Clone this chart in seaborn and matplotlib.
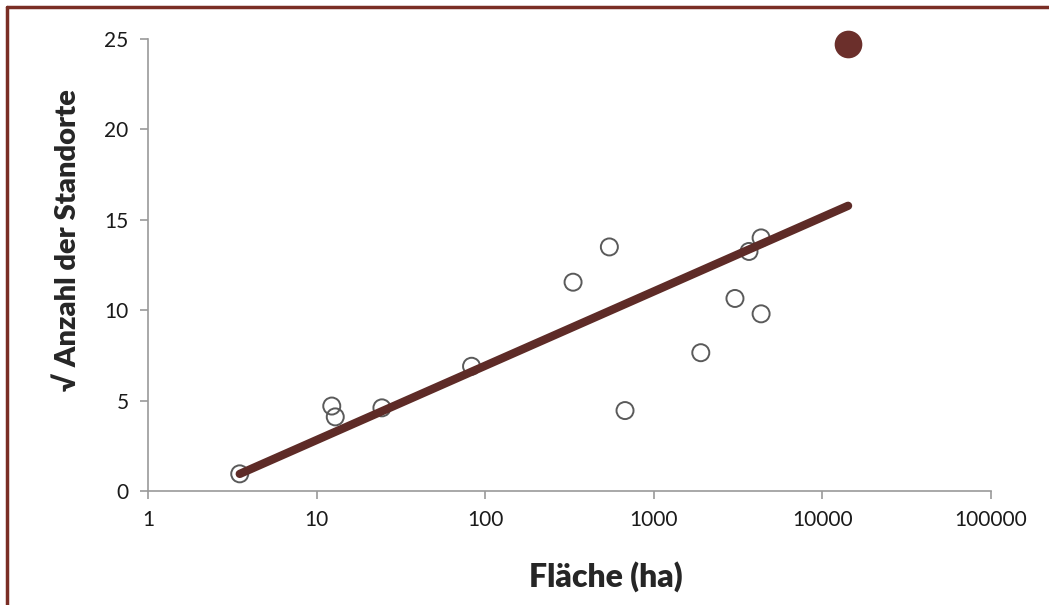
import numpy as np
import pandas as pd
import matplotlib.pyplot as plt
import seaborn as sns
from matplotlib.lines import Line2D

# Fläche (ha) und Wurzel der Anzahl der Standorte
area_ha = [3.5, 12.3, 12.9, 24.4, 83, 332, 545, 675, 1900, 3030, 3670, 4330, 4330]
sqrt_sites = [0.95, 4.7, 4.1, 4.6, 6.9, 11.55, 13.5, 4.45, 7.65, 10.65, 13.25, 9.8, 14.0]

# hervorgehobener Standort
highlight_area = [14200]
highlight_sqrt = [24.75]

# Regressionsgerade y = a + b * log10(x)
fit_intercept = -1.29
fit_slope = 4.11
fit_range = [3.5, 14200]

xticks = [1, 10, 100, 1000, 10000, 100000]
yticks = [0, 5, 10, 15, 20, 25]

sns.set_style("white")
plt.rcParams['font.family'] = ['Lato', 'DejaVu Sans']

fig = plt.figure(figsize=(10.49, 6.05), dpi=100)
ax = fig.add_axes([0.1411, 0.1884, 0.8036, 0.7471])

df = pd.DataFrame({'x': area_ha, 'y': sqrt_sites})
fit_x = np.array(fit_range)
fit_df = pd.DataFrame({'x': fit_x, 'y': fit_intercept + fit_slope * np.log10(fit_x)})

sns.scatterplot(data=df, x='x', y='y', ax=ax, s=150, facecolor='none',
                edgecolor='#5a5a5a', linewidth=1.4, zorder=2)
sns.lineplot(data=fit_df, x='x', y='y', ax=ax, color='#5e2b27', linewidth=6,
             solid_capstyle='round', zorder=3)
sns.scatterplot(x=highlight_area, y=highlight_sqrt, ax=ax, s=340,
                color='#6b2f2b', edgecolor='#6b2f2b', zorder=4, clip_on=False)

ax.set_xscale('log')
ax.set_xlim(1, 100000)
ax.set_ylim(0, 25)
ax.set_xticks(xticks)
ax.set_xticklabels([str(t) for t in xticks])
ax.set_yticks(yticks)
ax.set_yticklabels([str(t) for t in yticks])
ax.minorticks_off()

for side in ['top', 'right']:
    ax.spines[side].set_visible(False)
for side in ['left', 'bottom']:
    ax.spines[side].set_color('#9a9a9a')
    ax.spines[side].set_linewidth(1.2)

ax.tick_params(axis='both', which='major', direction='out', length=6, width=1.2,
               color='#9a9a9a', labelsize=15, labelcolor='#1a1a1a', pad=8, bottom=True, left=True)

ax.set_xlabel('Fläche (ha)', fontsize=23, fontweight='heavy')
ax.set_ylabel('√ Anzahl der Standorte', fontsize=21, fontweight='heavy')
ax.xaxis.set_label_coords(0.543, -0.155)
ax.yaxis.set_label_coords(-0.08, 0.555)

# Rahmen oben und links
fig.add_artist(Line2D([0.0067, 1.0], [0.9884, 0.9884], transform=fig.transFigure,
                      color='#7a2e25', linewidth=2.5))
fig.add_artist(Line2D([0.0067, 0.0067], [0.0, 0.9884], transform=fig.transFigure,
                      color='#7a2e25', linewidth=2.5))

fig.savefig('out.png', dpi=100)
